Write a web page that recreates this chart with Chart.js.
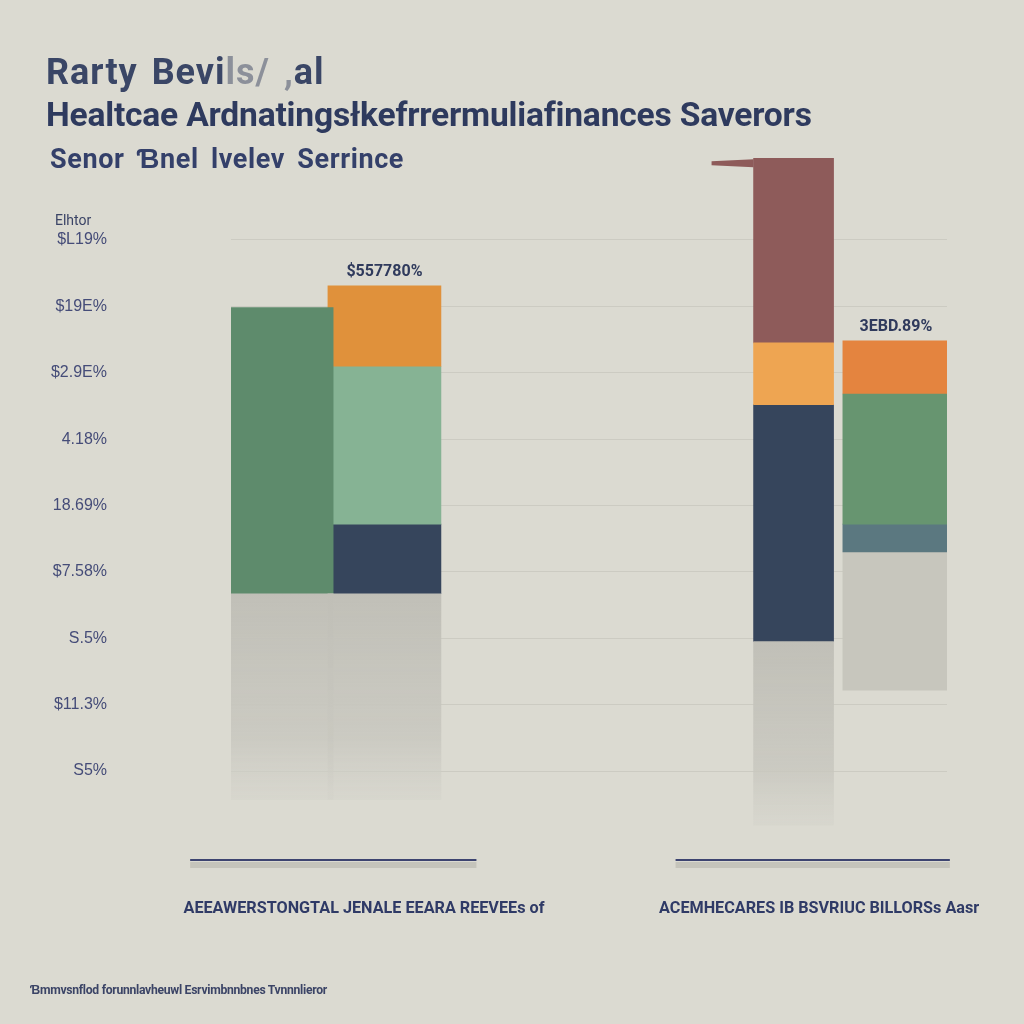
<!DOCTYPE html>
<html>
<head>
<meta charset="utf-8">
<script src="https://cdn.jsdelivr.net/npm/chart.js@4.4.1/dist/chart.umd.min.js"></script>
<style>
  html, body { margin: 0; padding: 0; background: #dbdad1; }
  #wrap { position: relative; width: 1024px; height: 1024px; overflow: hidden; }
  #c { position: absolute; left: 0; top: 0; }
  .t { position: absolute; white-space: nowrap; font-family: "Liberation Sans Narrow", "Roboto", "Liberation Sans", sans-serif; font-weight: bold; }
  #t1 { left: 46px; top: 51px; font-size: 36px; color: #3a4666; letter-spacing: 1px; word-spacing: 4px; }
  #t1 span { color: #8c909a; }
  #t2 { left: 46px; top: 95px; font-size: 33.6px; color: #2e3a5e; letter-spacing: -0.2px; }
  #t3 { left: 50px; top: 143px; font-size: 27px; color: #34406a; letter-spacing: 0.6px; word-spacing: 5px; }
  #yt { left: 55px; top: 212px; font-size: 14px; font-weight: normal; color: #3b4466; }
  #ft { left: 30px; top: 983px; font-size: 12.2px; color: #3b4466; letter-spacing: -0.3px; }
</style>
</head>
<body>
<div id="wrap">
  <canvas id="c" width="1024" height="1024"></canvas>
  <div class="t" id="t1">Rarty Bevi<span>ls/ ,</span>al</div>
  <div class="t" id="t2">Healtcae Ardnatingsłkefrrermuliafinances Saverors</div>
  <div class="t" id="t3">Senor Ɓnel lvelev Serrince</div>
  <div class="t" id="yt">Elhtor</div>
  <div class="t" id="ft">Ɓmmvsnflod forunnlavheuwl Esrvimbnnbnes Tvnnnlieror</div>
</div>
<script>
// ---- data ----
const categories = ["Group 1 A", "Group 1 B", "", "", "", "Group 2 A", "Group 2 B"];
const yTickLabels = ["S5%", "$11.3%", "S.5%", "$7.58%", "18.69%", "4.18%", "$2.9E%", "$19E%", "$L19%"];
const groupLabels = ["AEEAWERSTONGTAL JENALE EEARA REEVEEs of", "ACEMHECARES IB BSVRIUC BILLORSs Aasr"];
const valueLabels = ["", "$557780%", "", "", "", "", "3EBD.89%"];

const greenSeries  = [[2.67, 6.98], [3.72, 6.09], null, null, null, null, [3.72, 5.68]];
const orangeSeries = [null, [6.09, 7.31], null, null, null, [5.52, 6.45], [5.68, 6.48]];
const navySeries   = [null, [2.67, 3.72], null, null, null, [1.95, 5.52], null];
const redSeries    = [null, null, null, null, null, [6.45, 9.23], null];
const tealSeries   = [null, null, null, null, null, null, [3.30, 3.72]];
const greySeries   = [null, null, null, null, null, null, [1.22, 3.30]];
const shadowSeries = [[-0.43, 2.67], [-0.43, 2.67], null, null, null, [-0.81, 1.95], null];

// ---- styles ----
const columnWidths = [102, 113, 0, 0, 0, 80, 106];
function shadowFill(ctx) {
  const chart = ctx.chart;
  const y = chart.scales.y;
  if (!y || !chart.chartArea) return "rgba(190,189,180,0.7)";
  const v = ctx.raw || [0, 0];
  const g = chart.ctx.createLinearGradient(0, y.getPixelForValue(v[1]), 0, y.getPixelForValue(v[0]));
  g.addColorStop(0, "rgba(192,191,183,1)");
  g.addColorStop(0.7, "rgba(200,199,191,0.85)");
  g.addColorStop(1, "rgba(210,209,201,0.4)");
  return g;
}
const seriesDefs = [
  { name: "Shadow", values: shadowSeries, colors: [shadowFill, shadowFill, null, null, null, shadowFill, null] },
  { name: "Green",  values: greenSeries,  colors: ["#5e8b6c", "#86b394", null, null, null, null, "#679570"] },
  { name: "Orange", values: orangeSeries, colors: [null, "#e0913b", null, null, null, "#eea552", "#e4843f"] },
  { name: "Navy",   values: navySeries,   colors: [null, "#36455c", null, null, null, "#36455c", null] },
  { name: "Red",    values: redSeries,    colors: [null, null, null, null, null, "#8e5b5a", null] },
  { name: "Teal",   values: tealSeries,   colors: [null, null, null, null, null, null, "#5b7880"] },
  { name: "Grey",   values: greySeries,   colors: [null, null, null, null, null, null, "#c7c6bd"] }
];

const datasets = [];
seriesDefs.forEach(s => {
  s.values.forEach((v, i) => {
    if (!v) return;
    const data = categories.map((_, j) => (j === i ? v : null));
    datasets.push({
      label: s.name + " " + i,
      data: data,
      backgroundColor: s.colors[i],
      barThickness: columnWidths[i],
      borderSkipped: false,
      borderWidth: 0
    });
  });
});

const decorPlugin = {
  id: "decor",
  afterDatasetsDraw(chart) {
    const ctx = chart.ctx;
    const x = chart.scales.x, y = chart.scales.y;
    const area = chart.chartArea;
    ctx.save();
    // value labels above columns
    ctx.font = "bold 16px 'Liberation Sans Narrow', 'Roboto', sans-serif";
    ctx.fillStyle = "#2f3a5c";
    ctx.textAlign = "center";
    ctx.textBaseline = "bottom";
    valueLabels.forEach((lab, i) => {
      if (!lab) return;
      let top = -Infinity;
      seriesDefs.forEach(s => { if (s.values[i] && s.name !== "Shadow") top = Math.max(top, s.values[i][1]); });
      ctx.fillText(lab, x.getPixelForValue(i), y.getPixelForValue(top) - 6);
    });
    // group baselines
    const groups = [[0, 1], [5, 6]];
    const ext = [[-92, 92], [-118, 54]];
    groups.forEach((g, k) => {
      const x0 = x.getPixelForValue(g[0]) + ext[k][0];
      const x1 = x.getPixelForValue(g[1]) + ext[k][1];
      ctx.fillStyle = "rgba(170,168,160,0.45)";
      ctx.fillRect(x0, area.bottom + 2, x1 - x0, 6);
      ctx.fillStyle = "#3d4470";
      ctx.fillRect(x0, area.bottom - 1, x1 - x0, 2);
    });
    // group labels
    ctx.font = "bold 16.2px 'Liberation Sans Narrow', 'Roboto', sans-serif";
    ctx.fillStyle = "#2f3a66";
    ctx.textBaseline = "middle";
    const anchors = [0.8, 5.25];
    groupLabels.forEach((lab, k) => {
      const a = anchors[k];
      const px = x.getPixelForValue(Math.floor(a)) + (a - Math.floor(a)) * (x.getPixelForValue(1) - x.getPixelForValue(0));
      ctx.fillText(lab, px, area.bottom + 49);
    });
    // red flag
    const rx = x.getPixelForValue(5) - columnWidths[5] / 2;
    const ry = y.getPixelForValue(redSeries[5][1]);
    ctx.fillStyle = "#8e5b5a";
    ctx.beginPath();
    ctx.moveTo(rx - 42, ry + 3);
    ctx.lineTo(rx, ry + 1);
    ctx.lineTo(rx, ry + 9);
    ctx.lineTo(rx - 42, ry + 7);
    ctx.closePath();
    ctx.fill();
    ctx.restore();
  }
};

new Chart(document.getElementById("c"), {
  type: "bar",
  data: { labels: categories, datasets: datasets },
  options: {
    responsive: false,
    animation: false,
    layout: { padding: { left: 0, right: 77, top: 150, bottom: 164 } },
    datasets: { bar: { grouped: false } },
    plugins: { legend: { display: false }, title: { display: false }, tooltip: { enabled: false } },
    scales: {
      x: {
        display: false,
        offset: true
      },
      y: {
        min: -1.34,
        max: 9.355,
        afterBuildTicks(scale) { scale.ticks = yTickLabels.map((_, i) => ({ value: i })); },
        afterFit(scale) { scale.width = 231; },
        border: { display: false },
        grid: { color: "rgba(150,148,140,0.22)", drawTicks: false },
        ticks: {
          padding: 124,
          color: "#454c78",
          font: { family: "'Liberation Sans Narrow', 'Liberation Sans', sans-serif", size: 16 },
          callback: (v) => yTickLabels[v]
        }
      }
    }
  },
  plugins: [decorPlugin]
});
</script>
</body>
</html>
